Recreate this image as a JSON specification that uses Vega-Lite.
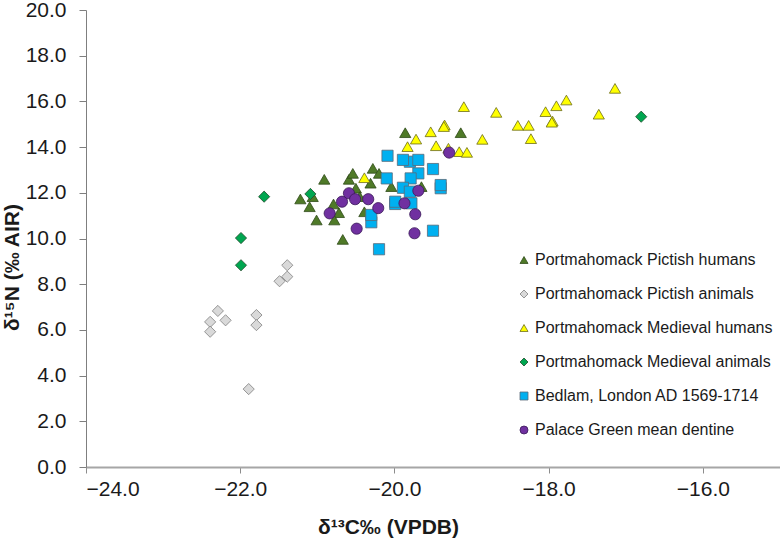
{
  "$schema": "https://vega.github.io/schema/vega-lite/v6.json",
  "width": 694,
  "height": 457,
  "autosize": {"type": "none"},
  "padding": {"left": 86, "top": 10, "right": 0, "bottom": 76},
  "background": "white",
  "config": {"view": {"stroke": null}, "font": "Liberation Sans"},
  "data": {
    "values": [
      {"s": "Portmahomack Pictish humans", "c": -20.91, "n": 12.59},
      {"s": "Portmahomack Pictish humans", "c": -20.59, "n": 12.59},
      {"s": "Portmahomack Pictish humans", "c": -21.22, "n": 11.73},
      {"s": "Portmahomack Pictish humans", "c": -21.06, "n": 11.83},
      {"s": "Portmahomack Pictish humans", "c": -21.10, "n": 11.39},
      {"s": "Portmahomack Pictish humans", "c": -21.01, "n": 10.81},
      {"s": "Portmahomack Pictish humans", "c": -20.79, "n": 11.51},
      {"s": "Portmahomack Pictish humans", "c": -20.72, "n": 11.13},
      {"s": "Portmahomack Pictish humans", "c": -20.78, "n": 10.81},
      {"s": "Portmahomack Pictish humans", "c": -20.67, "n": 9.96},
      {"s": "Portmahomack Pictish humans", "c": -19.86, "n": 14.63},
      {"s": "Portmahomack Pictish humans", "c": -19.14, "n": 14.63},
      {"s": "Portmahomack Pictish humans", "c": -20.54, "n": 12.85},
      {"s": "Portmahomack Pictish humans", "c": -20.28, "n": 13.07},
      {"s": "Portmahomack Pictish humans", "c": -20.20, "n": 12.85},
      {"s": "Portmahomack Pictish humans", "c": -20.31, "n": 12.42},
      {"s": "Portmahomack Pictish humans", "c": -20.50, "n": 12.20},
      {"s": "Portmahomack Pictish humans", "c": -20.45, "n": 11.83},
      {"s": "Portmahomack Pictish humans", "c": -19.65, "n": 12.27},
      {"s": "Portmahomack Pictish humans", "c": -20.04, "n": 12.27},
      {"s": "Portmahomack Pictish humans", "c": -20.39, "n": 11.17},
      {"s": "Portmahomack Pictish animals", "c": -21.39, "n": 8.83},
      {"s": "Portmahomack Pictish animals", "c": -21.39, "n": 8.33},
      {"s": "Portmahomack Pictish animals", "c": -21.49, "n": 8.13},
      {"s": "Portmahomack Pictish animals", "c": -22.29, "n": 6.83},
      {"s": "Portmahomack Pictish animals", "c": -22.19, "n": 6.42},
      {"s": "Portmahomack Pictish animals", "c": -22.39, "n": 6.35},
      {"s": "Portmahomack Pictish animals", "c": -22.39, "n": 5.92},
      {"s": "Portmahomack Pictish animals", "c": -21.79, "n": 6.65},
      {"s": "Portmahomack Pictish animals", "c": -21.79, "n": 6.21},
      {"s": "Portmahomack Pictish animals", "c": -21.89, "n": 3.41},
      {"s": "Portmahomack Medieval humans", "c": -19.10, "n": 15.77},
      {"s": "Portmahomack Medieval humans", "c": -18.68, "n": 15.52},
      {"s": "Portmahomack Medieval humans", "c": -18.04, "n": 15.55},
      {"s": "Portmahomack Medieval humans", "c": -18.40, "n": 14.95},
      {"s": "Portmahomack Medieval humans", "c": -18.26, "n": 14.95},
      {"s": "Portmahomack Medieval humans", "c": -18.23, "n": 14.37},
      {"s": "Portmahomack Medieval humans", "c": -18.86, "n": 14.34},
      {"s": "Portmahomack Medieval humans", "c": -19.35, "n": 14.97},
      {"s": "Portmahomack Medieval humans", "c": -19.36, "n": 14.90},
      {"s": "Portmahomack Medieval humans", "c": -19.53, "n": 14.67},
      {"s": "Portmahomack Medieval humans", "c": -19.72, "n": 14.35},
      {"s": "Portmahomack Medieval humans", "c": -19.46, "n": 14.06},
      {"s": "Portmahomack Medieval humans", "c": -19.83, "n": 14.02},
      {"s": "Portmahomack Medieval humans", "c": -19.16, "n": 13.80},
      {"s": "Portmahomack Medieval humans", "c": -19.06, "n": 13.77},
      {"s": "Portmahomack Medieval humans", "c": -19.30, "n": 13.95},
      {"s": "Portmahomack Medieval humans", "c": -20.39, "n": 12.66},
      {"s": "Portmahomack Medieval humans", "c": -17.14, "n": 16.57},
      {"s": "Portmahomack Medieval humans", "c": -17.35, "n": 15.44},
      {"s": "Portmahomack Medieval humans", "c": -17.77, "n": 16.06},
      {"s": "Portmahomack Medieval humans", "c": -17.90, "n": 15.81},
      {"s": "Portmahomack Medieval humans", "c": -17.95, "n": 15.14},
      {"s": "Portmahomack Medieval humans", "c": -17.96, "n": 15.09},
      {"s": "Bedlam, London AD 1569-1714", "c": -20.09, "n": 13.62},
      {"s": "Bedlam, London AD 1569-1714", "c": -19.80, "n": 13.36},
      {"s": "Bedlam, London AD 1569-1714", "c": -19.89, "n": 13.44},
      {"s": "Bedlam, London AD 1569-1714", "c": -19.69, "n": 13.44},
      {"s": "Bedlam, London AD 1569-1714", "c": -19.69, "n": 12.85},
      {"s": "Bedlam, London AD 1569-1714", "c": -19.50, "n": 13.04},
      {"s": "Bedlam, London AD 1569-1714", "c": -20.10, "n": 12.63},
      {"s": "Bedlam, London AD 1569-1714", "c": -19.79, "n": 12.63},
      {"s": "Bedlam, London AD 1569-1714", "c": -19.89, "n": 12.22},
      {"s": "Bedlam, London AD 1569-1714", "c": -19.80, "n": 12.05},
      {"s": "Bedlam, London AD 1569-1714", "c": -19.40, "n": 12.20},
      {"s": "Bedlam, London AD 1569-1714", "c": -19.40, "n": 12.34},
      {"s": "Bedlam, London AD 1569-1714", "c": -19.99, "n": 11.51},
      {"s": "Bedlam, London AD 1569-1714", "c": -19.99, "n": 11.61},
      {"s": "Bedlam, London AD 1569-1714", "c": -19.78, "n": 11.54},
      {"s": "Bedlam, London AD 1569-1714", "c": -20.30, "n": 10.71},
      {"s": "Bedlam, London AD 1569-1714", "c": -20.30, "n": 11.03},
      {"s": "Bedlam, London AD 1569-1714", "c": -19.50, "n": 10.34},
      {"s": "Bedlam, London AD 1569-1714", "c": -20.20, "n": 9.53},
      {"s": "Portmahomack Medieval animals", "c": -21.69, "n": 11.83},
      {"s": "Portmahomack Medieval animals", "c": -21.99, "n": 10.02},
      {"s": "Portmahomack Medieval animals", "c": -21.99, "n": 8.83},
      {"s": "Portmahomack Medieval animals", "c": -21.09, "n": 11.95},
      {"s": "Portmahomack Medieval animals", "c": -16.80, "n": 15.33},
      {"s": "Palace Green mean dentine", "c": -20.84, "n": 11.10},
      {"s": "Palace Green mean dentine", "c": -20.68, "n": 11.61},
      {"s": "Palace Green mean dentine", "c": -20.59, "n": 11.98},
      {"s": "Palace Green mean dentine", "c": -19.29, "n": 13.76},
      {"s": "Palace Green mean dentine", "c": -20.51, "n": 11.72},
      {"s": "Palace Green mean dentine", "c": -20.34, "n": 11.72},
      {"s": "Palace Green mean dentine", "c": -20.21, "n": 11.33},
      {"s": "Palace Green mean dentine", "c": -20.49, "n": 10.43},
      {"s": "Palace Green mean dentine", "c": -19.69, "n": 12.09},
      {"s": "Palace Green mean dentine", "c": -19.87, "n": 11.54},
      {"s": "Palace Green mean dentine", "c": -19.73, "n": 11.06},
      {"s": "Palace Green mean dentine", "c": -19.74, "n": 10.23}
    ]
  },
  "mark": {"type": "point", "filled": true, "size": 125, "strokeWidth": 0.8, "opacity": 1},
  "encoding": {
    "x": {
      "field": "c", "type": "quantitative",
      "scale": {"domain": [-24, -15], "nice": false, "zero": false},
      "axis": {
        "title": "δ¹³C‰ (VPDB)", "values": [-24, -22, -20, -18, -16], "format": ".1f",
        "grid": false, "domainColor": "#a6a6a6", "domainWidth": 2, "tickColor": "#8c8c8c", "tickWidth": 1, "tickSize": 6,
        "labelFontSize": 21, "labelColor": "#1a1a1a", "labelPadding": 5, "labelFont": "Liberation Sans",
        "titleFontSize": 21, "titleFontWeight": "bold", "titleColor": "#1a1a1a", "titleFont": "Liberation Sans",
        "titleX": 302, "titleY": 60, "titleBaseline": "middle", "titleAlign": "center"
      }
    },
    "y": {
      "field": "n", "type": "quantitative",
      "scale": {"domain": [0, 20], "nice": false},
      "axis": {
        "title": "δ¹⁵N (‰ AIR)", "values": [0, 2, 4, 6, 8, 10, 12, 14, 16, 18, 20], "format": ".1f",
        "grid": false, "domainColor": "#7f7f7f", "domainWidth": 1, "tickColor": "#7f7f7f", "tickSize": 7,
        "labelFontSize": 21, "labelColor": "#1a1a1a", "labelPadding": 13, "labelFont": "Liberation Sans",
        "titleFontSize": 21, "titleFontWeight": "bold", "titleColor": "#1a1a1a", "titleFont": "Liberation Sans",
        "titleX": -74, "titleY": 257, "titleBaseline": "middle", "titleAlign": "center", "titleAngle": -90
      }
    },
    "fill": {
      "field": "s", "type": "nominal",
      "scale": {
        "domain": ["Portmahomack Pictish humans", "Portmahomack Pictish animals", "Portmahomack Medieval humans", "Portmahomack Medieval animals", "Bedlam, London AD 1569-1714", "Palace Green mean dentine"],
        "range": ["#4f7a28", "#d9d9d9", "#ffff00", "#00a650", "#00b0f0", "#7030a0"]
      },
      "legend": {
        "title": null, "orient": "none", "legendX": 430, "legendY": 242,
        "labelFontSize": 16, "labelColor": "#1a1a1a", "labelFont": "Liberation Sans", "labelLimit": 400, "symbolSize": 64,
        "rowPadding": 18, "labelOffset": 3, "symbolStrokeWidth": 0.8
      }
    },
    "stroke": {
      "field": "s", "type": "nominal",
      "scale": {
        "domain": ["Portmahomack Pictish humans", "Portmahomack Pictish animals", "Portmahomack Medieval humans", "Portmahomack Medieval animals", "Bedlam, London AD 1569-1714", "Palace Green mean dentine"],
        "range": ["#2f4a18", "#7f7f7f", "#6b6b1a", "#1f4a2a", "#5a6a78", "#3a1a58"]
      }
    },
    "shape": {
      "field": "s", "type": "nominal",
      "scale": {
        "domain": ["Portmahomack Pictish humans", "Portmahomack Pictish animals", "Portmahomack Medieval humans", "Portmahomack Medieval animals", "Bedlam, London AD 1569-1714", "Palace Green mean dentine"],
        "range": ["triangle-up", "diamond", "triangle-up", "diamond", "square", "circle"]
      }
    }
  }
}
